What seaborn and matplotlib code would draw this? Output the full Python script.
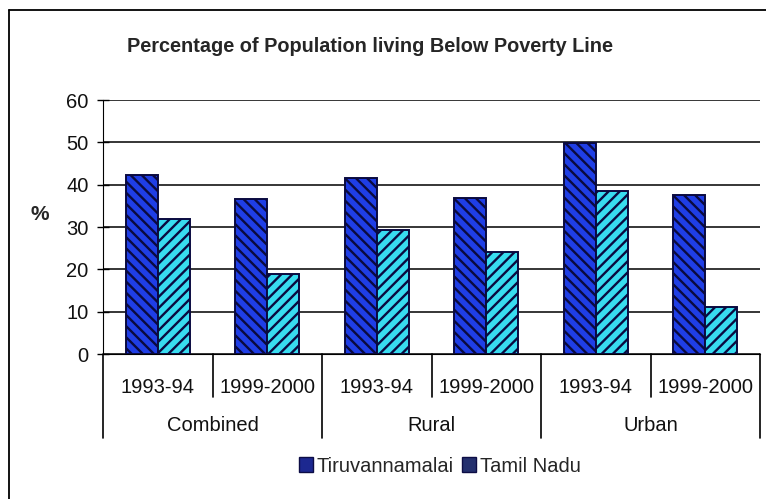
import pandas as pd
import numpy as np
import matplotlib.pyplot as plt
import seaborn as sns
from matplotlib.patches import Patch
from matplotlib.lines import Line2D

# data
areas = ['Combined', 'Rural', 'Urban']
years = ['1993-94', '1999-2000']
tiruvannamalai = [42.3, 36.7, 41.6, 36.8, 49.8, 37.5]
tamil_nadu = [31.9, 19.0, 29.4, 24.1, 38.6, 11.0]
series = ['Tiruvannamalai', 'Tamil Nadu']
y_ticks = [0, 10, 20, 30, 40, 50, 60]

sns.set_style('white')
plt.rcParams['font.family'] = ['Liberation Sans', 'DejaVu Sans']
plt.rcParams['hatch.linewidth'] = 1.7

slots = [f'{a}|{y}' for a in areas for y in years]
df = pd.DataFrame({
    'slot': slots * 2,
    'value': tiruvannamalai + tamil_nadu,
    'series': [series[0]] * 6 + [series[1]] * 6,
})

fill = {'Tiruvannamalai': '#1f3ee6', 'Tamil Nadu': '#38dcf0'}
hatch = {'Tiruvannamalai': '\\\\\\', 'Tamil Nadu': '///'}
edge = '#0a0a40'

fig = plt.figure(figsize=(7.66, 4.99), dpi=100)
ax = fig.add_axes([103 / 766, 1 - 354 / 499, 657 / 766, 254 / 499])

sns.barplot(data=df, x='slot', y='value', hue='series', order=slots,
            hue_order=series, palette=fill, saturation=1, width=0.58, ax=ax,
            legend=False, edgecolor=edge, linewidth=1.4, zorder=3)

for cont, name in zip(ax.containers, series):
    for bar in cont:
        bar.set_hatch(hatch[name])
        bar.set_edgecolor(edge)

ax.set_ylim(0, 60)
ax.set_xlim(-0.5, 5.5)
ax.set_yticks(y_ticks)
ax.yaxis.grid(True, color='black', linewidth=1.1, zorder=0)
ax.set_axisbelow(True)
for s in ['top', 'right']:
    ax.spines[s].set_visible(False)
ax.spines['left'].set_color('black')
ax.spines['bottom'].set_color('black')
ax.tick_params(axis='y', direction='inout', length=9, width=1, color='black',
               labelsize=14.5, pad=6, left=True, labelcolor='#111111')
ax.set_xticks(range(6))
ax.set_xticklabels(years * 3, fontsize=14.5, color='#111111')
ax.tick_params(axis='x', length=0, pad=17)
ax.set_xlabel('')
ax.set_ylabel('')

# hierarchical axis separators
tr = ax.get_xaxis_transform()
for i in range(7):
    x = i - 0.5
    low = -0.331 if i % 2 == 0 else -0.169
    ax.add_line(Line2D([x, x], [0, low], transform=tr, color='black',
                       linewidth=1.2, clip_on=False))
for k, a in enumerate(areas):
    ax.text(2 * k + 0.5, -0.282, a, transform=tr, ha='center', va='center',
            fontsize=14.5, color='#111111')

fig.text(40 / 766, 1 - 215 / 499, '%', ha='center', va='center',
         fontsize=15, fontweight='bold')
fig.text(370 / 766, 1 - 46 / 499,
         'Percentage of Population living Below Poverty Line',
         ha='center', va='center', fontsize=14.3, fontweight='bold')

# outer frame
fig.add_artist(Line2D([9 / 766, 9 / 766], [0, 1 - 10 / 499],
                      transform=fig.transFigure, color='black', linewidth=1.3))
fig.add_artist(Line2D([9 / 766, 1], [1 - 10 / 499, 1 - 10 / 499],
                      transform=fig.transFigure, color='black', linewidth=1.3))

handles = [Patch(facecolor='#1c2890', edgecolor='#0d0d45'),
           Patch(facecolor='#24306e', edgecolor='#0d0d45')]
fig.legend(handles, series, loc='center', bbox_to_anchor=(440 / 766, 1 - 466 / 499),
           ncol=2, frameon=False, fontsize=14.5, handlelength=0.7,
           handleheight=0.7, handletextpad=0.2, columnspacing=0.4)

fig.savefig('out.png', dpi=100)
